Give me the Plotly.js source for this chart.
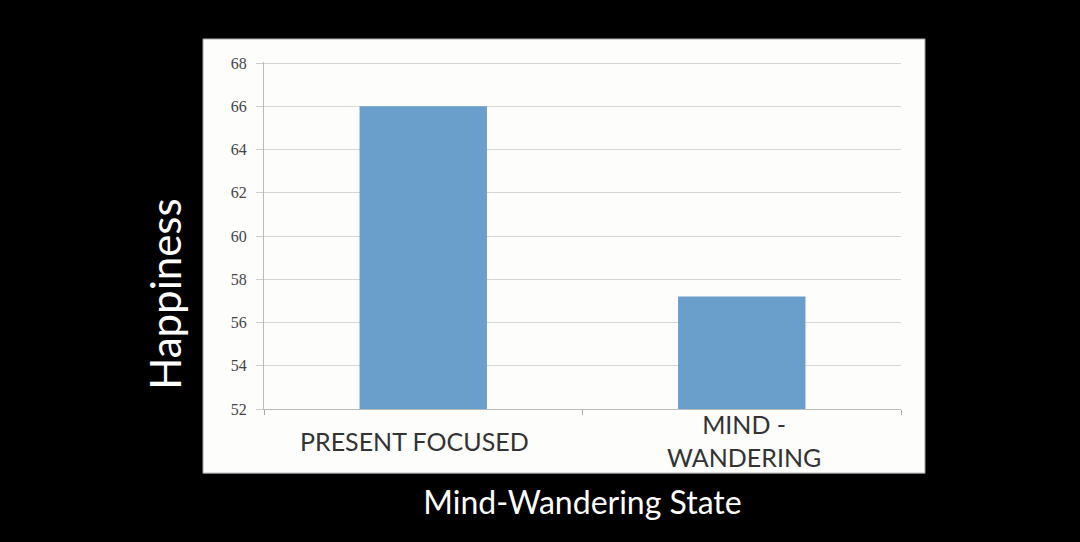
<!DOCTYPE html>
<html>
<head>
<meta charset="utf-8">
<script src="https://cdn.plot.ly/plotly-3.0.1.min.js"></script>
<style>html,body{margin:0;padding:0;background:#000;}#chart{width:1080px;height:542px;}</style>
</head>
<body>
<div id="chart"></div>
<script>
var categories = ["PRESENT FOCUSED", "MIND -<br>WANDERING"];
var happiness = [66.0, 57.2];
var yTicks = [52, 54, 56, 58, 60, 62, 64, 66, 68];
var xTitle = "Mind-Wandering State";
var yTitle = "Happiness";

var catIdx = categories.map(function (c, i) { return i; });
var labelShift = [-9, 2];

var trace = {
  type: "bar",
  x: catIdx,
  y: happiness,
  marker: { color: "#6a9fcc", line: { width: 0 } },
  hoverinfo: "skip"
};

var annotations = categories.map(function (c, i) {
  return {
    x: i, xref: "x", y: -0.091, yref: "paper",
    xanchor: "center", yanchor: "middle", xshift: labelShift[i],
    text: c, showarrow: false,
    font: { family: "Lato, 'Open Sans', sans-serif", size: 25, color: "#333" }
  };
});
annotations.push({
  x: -0.155, xref: "paper", y: 0.33, yref: "paper",
  xanchor: "center", yanchor: "middle", textangle: -90,
  text: yTitle, showarrow: false,
  font: { family: "Lato, 'Open Sans', sans-serif", size: 42, color: "#fff" }
});

var layout = {
  width: 1080, height: 542,
  paper_bgcolor: "#000",
  plot_bgcolor: "#fdfdfc",
  margin: { l: 264, r: 179, t: 62, b: 133, pad: 0 },
  showlegend: false,
  bargap: 0.6,
  xaxis: {
    type: "linear",
    range: [-0.5, 1.5],
    tickvals: [-0.5, 0.5, 1.5],
    showticklabels: false,
    ticks: "outside", ticklen: 5, tickcolor: "#aaa",
    showgrid: false, zeroline: false,
    showline: true, linecolor: "#bbb", linewidth: 1,
    title: { text: xTitle, standoff: 77,
      font: { family: "Lato, 'Open Sans', sans-serif", size: 32, color: "#fff" } }
  },
  yaxis: {
    range: [52, 68.05],
    tickvals: yTicks,
    ticktext: yTicks.map(String),
    ticks: "outside", ticklen: 7, tickcolor: "#ccc",
    ticklabelstandoff: 6,
    tickfont: { family: "'Liberation Serif', 'DejaVu Serif', serif", size: 16, color: "#444" },
    showgrid: true, gridcolor: "#d6d6d6", gridwidth: 1,
    zeroline: false,
    showline: true, linecolor: "#bbb", linewidth: 1
  },
  shapes: [{
    type: "rect", xref: "paper", yref: "paper", layer: "below",
    x0: -0.0958, x1: 1.0377, y0: -0.185, y1: 1.0665,
    fillcolor: "#fdfdfc", line: { color: "#999", width: 1 }
  }],
  annotations: annotations
};

Plotly.newPlot("chart", [trace], layout, { staticPlot: true, displayModeBar: false });
</script>
</body>
</html>
